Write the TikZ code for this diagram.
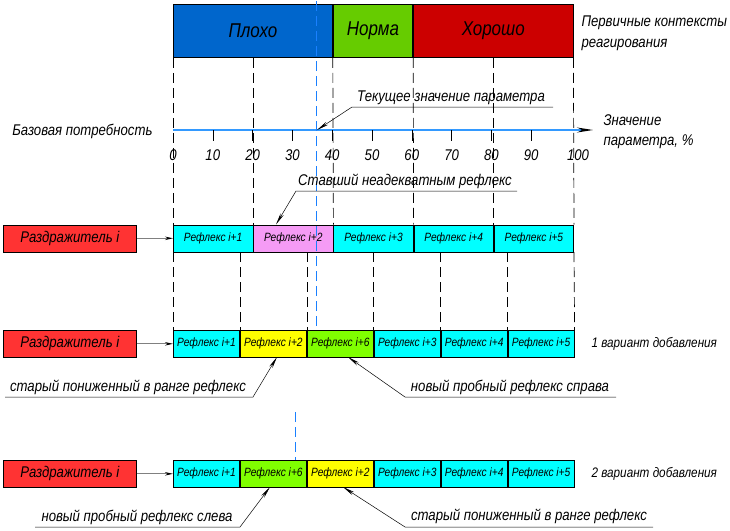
\documentclass[tikz,border=0pt]{standalone}
\usepackage{fontspec}
\setmainfont{Liberation Sans}[FakeStretch=0.85]
\usetikzlibrary{arrows.meta}
\definecolor{cbad}{HTML}{0066CC}
\definecolor{cnorm}{HTML}{66CC00}
\definecolor{cgood}{HTML}{CC0000}
\definecolor{ccyan}{HTML}{00FFFF}
\definecolor{cpink}{HTML}{F59BF5}
\definecolor{cyel}{HTML}{FFFF00}
\definecolor{cgrn}{HTML}{80FF00}
\definecolor{cstim}{HTML}{FF3333}
\definecolor{caxis}{HTML}{3399FF}
\definecolor{ccur}{HTML}{1A80FF}
\begin{document}
\begin{tikzpicture}[x=1pt,y=-1pt,
  big/.style={font=\fontsize{20}{24}\selectfont\itshape},
  med/.style={font=\fontsize{15.5}{19}\selectfont\itshape},
  vsz/.style={font=\fontsize{13.8}{17}\selectfont\itshape},
  sml/.style={font=\fontsize{12}{14}\selectfont\itshape},
  zone/.style={draw=black, line width=0.8pt, anchor=north west, inner sep=0pt, minimum height=53pt, big},
  refl/.style={draw=black, line width=0.6pt, anchor=north west, inner sep=0pt, minimum height=27pt, sml},
  stim/.style={draw=black, line width=0.6pt, fill=cstim, anchor=north west, inner sep=0pt, minimum width=133pt, minimum height=27pt, med},
  guide/.style={black, line width=0.7pt, dash pattern=on 10pt off 5pt},
  cur/.style={ccur, line width=1pt, dash pattern=on 10pt off 5pt},
  feed/.style={gray, line width=1pt, -{Stealth[length=8pt,width=3.5pt,color=black]}},
  leader/.style={black, line width=0.5pt, -{Stealth[length=12pt,width=3.5pt]}},
  tick/.style={black, line width=0.6pt},
  lbl/.style={med, anchor=base},
  side/.style={med, anchor=base west, align=left},
]
\useasboundingbox (0,0) rectangle (730,530);

% top zones
\node[zone, fill=cbad, minimum width=159pt] (bad) at (173,4) {Плохо};
\node[zone, fill=cnorm, minimum width=79.6pt] (norm) at (bad.north east) {Норма};
\node[zone, fill=cgood, minimum width=159.4pt] (good) at (norm.north east) {Хорошо};
\node[med, anchor=base west] (ctx1) at (578,26) {Первичные контексты};
\node[med, anchor=base west] (ctx2) at (578,47) {реагирования};

% row 1
\node[stim] (s1) at (3,224.5) {Раздражитель i};
\node[refl, fill=ccyan, minimum width=79.6pt] (a1) at (173,224.5) {Рефлекс i+1};
\node[refl, fill=cpink, minimum width=79.6pt] (a2) at (a1.north east) {Рефлекс i+2};
\node[refl, fill=ccyan, minimum width=79.6pt] (a3) at (a2.north east) {Рефлекс i+3};
\node[refl, fill=ccyan, minimum width=79.6pt] (a4) at (a3.north east) {Рефлекс i+4};
\node[refl, fill=ccyan, minimum width=79.6pt] (a5) at (a4.north east) {Рефлекс i+5};
\draw[feed] (s1.east) -- (a1.west);

% row 2
\node[stim] (s2) at (3,330) {Раздражитель i};
\node[refl, fill=ccyan, minimum width=66.33pt] (b1) at (173,330) {Рефлекс i+1};
\node[refl, fill=cyel, minimum width=66.33pt] (b2) at (b1.north east) {Рефлекс i+2};
\node[refl, fill=cgrn, minimum width=66.33pt] (b3) at (b2.north east) {Рефлекс i+6};
\node[refl, fill=ccyan, minimum width=66.33pt] (b4) at (b3.north east) {Рефлекс i+3};
\node[refl, fill=ccyan, minimum width=66.33pt] (b5) at (b4.north east) {Рефлекс i+4};
\node[refl, fill=ccyan, minimum width=66.33pt] (b6) at (b5.north east) {Рефлекс i+5};
\draw[feed] (s2.east) -- (b1.west);
\node[vsz, anchor=west] (var1) at (588,343.5) {1 вариант добавления};

% row 3
\node[stim] (s3) at (3,460) {Раздражитель i};
\node[refl, fill=ccyan, minimum width=66.33pt] (c1) at (173,460) {Рефлекс i+1};
\node[refl, fill=cgrn, minimum width=66.33pt] (c2) at (c1.north east) {Рефлекс i+6};
\node[refl, fill=cyel, minimum width=66.33pt] (c3) at (c2.north east) {Рефлекс i+2};
\node[refl, fill=ccyan, minimum width=66.33pt] (c4) at (c3.north east) {Рефлекс i+3};
\node[refl, fill=ccyan, minimum width=66.33pt] (c5) at (c4.north east) {Рефлекс i+4};
\node[refl, fill=ccyan, minimum width=66.33pt] (c6) at (c5.north east) {Рефлекс i+5};
\draw[feed] (s3.east) -- (c1.west);
\node[vsz, anchor=west] (var2) at (588,473.5) {2 вариант добавления};

% dashed guides: zones to row 1
\draw[guide] (bad.south west) -- (a1.north west);
\draw[guide] (a2.north west |- bad.south) -- (a2.north west);
\draw[guide] (norm.south west) -- (a3.north west);
\draw[guide] (good.south west) -- (a4.north west);
\draw[guide] (a5.north west |- bad.south) -- (a5.north west);
\draw[guide] (good.south east) -- (a5.north east);
% row 1 to row 2
\draw[guide] (a1.south west) -- (b1.north west);
\draw[guide] (b2.north west |- a1.south) -- (b2.north west);
\draw[guide] (b3.north west |- a1.south) -- (b3.north west);
\draw[guide] (b4.north west |- a1.south) -- (b4.north west);
\draw[guide] (b5.north west |- a1.south) -- (b5.north west);
\draw[guide] (b6.north west |- a1.south) -- (b6.north west);
\draw[guide] (a5.south east) -- (b6.north east);

% axis
\coordinate (ax0) at (173,130);
\coordinate (axend) at (593,130);
\draw[caxis, line width=1.3pt, -{Stealth[length=16pt,width=5pt,color=black]}] (ax0) -- (axend);
\foreach \v in {10,20,...,90} \draw[tick] ({173+3.98*\v},130) -- ({173+3.98*\v},141);
\foreach \v in {0,10,...,90} \node[lbl] (t\v) at ({173+3.98*\v},160) {\v};
\node[lbl] (t100) at (578,160) {100};
\node[med, anchor=base east] (base) at (156,135) {Базовая потребность};
\node[side] (val1) at (600,125) {Значение};
\node[side] (val2) at (600,145) {параметра, \%};

% current value lines
\coordinate (cvtop) at (316.7,1);
\draw[cur] (cvtop) -- (cvtop |- b1.north);
\coordinate (cv3) at (295,412);
\draw[cur] (cv3) -- (cv3 |- c1.north);

% leaders
\node[lbl] (lab0) at (451,101) {Текущее значение параметра};
\coordinate (u0a) at (352,107); \coordinate (u0b) at (553,107);
\coordinate (p0) at (317,130);
\draw[leader] (u0b) -- (u0a) -- (p0);

\node[lbl] (lab1) at (405,185) {Ставший неадекватным рефлекс};
\coordinate (u1a) at (296,191); \coordinate (u1b) at (517,191);
\coordinate (p1) at (276,224.5);
\draw[leader] (u1b) -- (u1a) -- (p1);

\node[lbl] (lab2) at (128,391.5) {старый пониженный в ранге рефлекс};
\coordinate (u2a) at (253,397); \coordinate (u2b) at (5,397);
\coordinate (p2) at (277,357);
\draw[leader] (u2b) -- (u2a) -- (p2);

\node[lbl] (lab3) at (510,391) {новый пробный рефлекс справа};
\coordinate (u3a) at (405,397); \coordinate (u3b) at (616,397);
\coordinate (p3) at (348,357);
\draw[leader] (u3b) -- (u3a) -- (p3);

\node[lbl] (lab4) at (137,521) {новый пробный рефлекс слева};
\coordinate (u4a) at (240,527); \coordinate (u4b) at (35,527);
\coordinate (p4) at (270,487);
\draw[leader] (u4b) -- (u4a) -- (p4);

\node[lbl] (lab5) at (529,520.5) {старый пониженный в ранге рефлекс};
\coordinate (u5a) at (405,527); \coordinate (u5b) at (653,527);
\coordinate (p5) at (343,487);
\draw[leader] (u5b) -- (u5a) -- (p5);
\end{tikzpicture}
\end{document}
